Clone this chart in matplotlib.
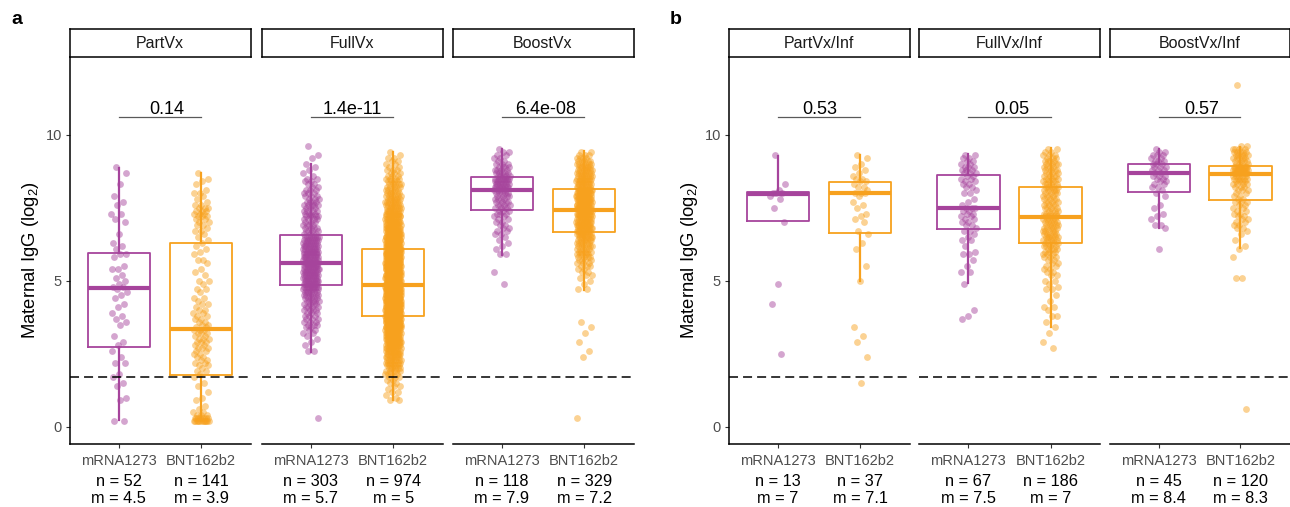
import numpy as np
import matplotlib
matplotlib.use("Agg")
import matplotlib.pyplot as plt
from matplotlib.transforms import blended_transform_factory, offset_copy

plt.rcParams["font.family"] = ["Liberation Sans", "DejaVu Sans"]
plt.rcParams["mathtext.default"] = "regular"

# ---------------- data ----------------
panel_tags = ["a", "b"]
facet_names = ["PartVx", "FullVx", "BoostVx", "PartVx/Inf", "FullVx/Inf", "BoostVx/Inf"]
vaccines = ["mRNA1273", "BNT162b2"]
p_values = ["0.14", "1.4e-11", "6.4e-08", "0.53", "0.05", "0.57"]
n_labels = [52, 141, 303, 974, 118, 329, 13, 37, 67, 186, 45, 120]
m_labels = ["4.5", "3.9", "5.7", "5", "7.9", "7.2", "7", "7.1", "7.5", "7", "8.4", "8.3"]
y_ticks = [0, 5, 10]
cutoff = 1.71
bracket_y = 10.6

# box statistics (log2 IgG), order: facet x vaccine
box_lo = [0.23, 0.22, 2.57, 0.91, 5.88, 4.68, 7.04, 5.00, 4.91, 3.42, 6.79, 6.11]
box_q1 = [2.72, 1.76, 4.85, 3.80, 7.41, 6.66, 7.04, 6.63, 6.78, 6.29, 8.05, 7.77]
box_med = [4.75, 3.36, 5.62, 4.86, 8.12, 7.43, 7.98, 8.01, 7.50, 7.19, 8.70, 8.66]
box_q3 = [5.94, 6.29, 6.56, 6.10, 8.56, 8.15, 8.05, 8.38, 8.63, 8.21, 9.01, 8.94]
box_hi = [8.85, 8.68, 9.00, 9.42, 9.50, 9.45, 9.28, 9.30, 9.33, 9.55, 9.50, 9.59]

# individual points: value levels (log2) and number of points at each level
partvx_mrna_y = [8.9, 8.7, 8.3, 7.9, 7.7, 7.6, 7.3, 7.1, 7.0, 6.6, 6.3, 6.2, 6.1, 5.9, 5.8, 5.5, 5.4, 5.2, 5.1, 5.0,
                 4.9, 4.8, 4.7, 4.6, 4.5, 4.4, 4.2, 4.1, 3.9, 3.8, 3.7, 3.6, 3.5, 3.1, 2.9, 2.8, 2.6, 2.4, 2.2, 1.8,
                 1.7, 1.5, 1.4, 1.0, 0.9, 0.2]
partvx_mrna_k = [1, 1, 1, 1, 1, 1, 2, 1, 1, 1, 1, 1, 1, 2, 1, 1, 2, 1, 1, 1,
                 1, 2, 1, 1, 1, 1, 1, 1, 1, 1, 1, 1, 1, 1, 1, 1, 1, 1, 2, 1,
                 1, 1, 1, 1, 1, 2]

partvx_bnt_y = [8.7, 8.5, 8.4, 8.3, 8.1, 8.0, 7.9, 7.8, 7.7, 7.6, 7.5, 7.4, 7.3, 7.2, 7.1, 7.0, 6.9, 6.8, 6.7, 6.6, 6.5, 6.4, 6.3,
                6.2, 6.1, 6.0, 5.9, 5.7, 5.6, 5.4, 5.3, 5.2, 5.0, 4.9, 4.7, 4.6, 4.4, 4.3, 4.2, 4.1, 4.0, 3.9, 3.8, 3.7, 3.6, 3.5, 3.4,
                3.3, 3.2, 3.1, 3.0, 2.9, 2.8, 2.7, 2.6, 2.5, 2.4, 2.3, 2.2, 2.1, 2.0, 1.9, 1.8,
                1.7, 1.5, 1.4, 1.2, 1.0, 0.9, 0.7, 0.6, 0.5, 0.4, 0.3, 0.2]
partvx_bnt_k = [1, 1, 1, 1, 1, 2, 1, 1, 1, 2, 3, 3, 3, 3, 2, 2, 2, 1, 2, 1, 1, 1, 1,
                1, 1, 1, 1, 2, 1, 1, 1, 1, 2, 1, 2, 1, 2, 1, 2, 1, 2, 2, 2, 2, 2, 2, 2,
                3, 3, 2, 3, 3, 2, 3, 2, 2, 2, 2, 2, 2, 1, 2, 1,
                1, 1, 1, 1, 1, 1, 1, 1, 2, 3, 8, 12]

fullvx_mrna_y = [9.6, 9.3, 9.2, 9.0, 8.9, 8.8, 8.7, 8.6, 8.5, 8.4, 8.3, 8.2, 8.1, 8.0, 7.9, 7.8, 7.7, 7.6, 7.5, 7.4,
                 7.3, 7.2, 7.1, 7.0, 6.9, 6.8, 6.7, 6.6,
                 6.5, 6.4, 6.3, 6.2, 6.1, 6.0, 5.9, 5.8, 5.7,
                 5.6, 5.5, 5.4, 5.3, 5.2, 5.1, 5.0, 4.9,
                 4.8, 4.7, 4.6, 4.5, 4.4, 4.3, 4.2, 4.1, 4.0, 3.9, 3.8, 3.7, 3.6, 3.5, 3.4, 3.3, 3.2, 3.1, 3.0, 2.9,
                 2.8, 2.6, 0.3]
fullvx_mrna_k = [1, 1, 1, 1, 1, 1, 1, 1, 2, 2, 2, 2, 3, 3, 3, 3, 4, 5, 3, 4,
                 4, 5, 4, 3, 4, 4, 4, 4,
                 8, 8, 8, 9, 8, 9, 8, 9, 8,
                 10, 10, 9, 10, 9, 9, 9, 9,
                 8, 7, 6, 6, 5, 5, 4, 4, 4, 3, 3, 3, 3, 3, 2, 2, 2, 1, 1, 1,
                 1, 2, 1]

fullvx_bnt_y = [9.4, 9.3, 9.2, 9.1, 9.0, 8.9, 8.8, 8.7, 8.6, 8.5, 8.4, 8.3, 8.2, 8.1, 8.0, 7.9, 7.8, 7.7, 7.6, 7.5,
                7.4, 7.3, 7.2, 7.1, 7.0, 6.9, 6.8, 6.7, 6.6, 6.5, 6.4, 6.3, 6.2,
                6.1, 6.0, 5.9, 5.8, 5.7, 5.6, 5.5, 5.4, 5.3, 5.2, 5.1, 5.0, 4.9,
                4.8, 4.7, 4.6, 4.5, 4.4, 4.3, 4.2, 4.1, 4.0, 3.9, 3.8,
                3.7, 3.6, 3.5, 3.4, 3.3, 3.2, 3.1, 3.0, 2.9, 2.8, 2.7, 2.6, 2.5, 2.4, 2.3, 2.2, 2.1, 2.0, 1.9, 1.8,
                1.7, 1.6, 1.5, 1.4, 1.3, 1.2, 1.1, 1.0, 0.9]
fullvx_bnt_k = [1, 1, 2, 2, 2, 2, 3, 3, 3, 4, 4, 5, 5, 5, 6, 6, 7, 7, 8, 8,
                9, 9, 10, 10, 11, 11, 12, 13, 14, 15, 16, 16, 17,
                18, 19, 17, 20, 18, 19, 21, 18, 19, 20, 17, 19, 18,
                21, 23, 22, 20, 24, 22, 21, 23, 22, 21, 24,
                21, 20, 19, 18, 14, 14, 13, 12, 12, 11, 10, 10, 9, 8, 8, 7, 6, 6, 5, 4,
                3, 2, 2, 2, 1, 2, 1, 1, 2]

boostvx_mrna_y = [9.5, 9.4, 9.3, 9.2, 9.1, 9.0, 8.9, 8.8, 8.7, 8.6,
                  8.5, 8.4, 8.3, 8.2,
                  8.1, 8.0, 7.9, 7.8, 7.7, 7.6, 7.5,
                  7.4, 7.3, 7.2, 7.1, 7.0, 6.9, 6.8, 6.7, 6.6, 6.5, 6.4, 6.3, 6.2, 6.1, 5.9, 5.3, 4.9]
boostvx_mrna_k = [1, 2, 2, 2, 2, 3, 4, 4, 5, 5,
                  7, 7, 7, 8,
                  5, 5, 4, 4, 4, 4, 4,
                  3, 3, 2, 2, 2, 2, 2, 2, 2, 1, 1, 1, 1, 1, 2, 1, 1]

boostvx_bnt_y = [9.4, 9.3, 9.2, 9.1, 9.0, 8.9, 8.8, 8.7, 8.6, 8.5, 8.4, 8.3, 8.2,
                 8.1, 8.0, 7.9, 7.8, 7.7, 7.6, 7.5,
                 7.4, 7.3, 7.2, 7.1, 7.0, 6.9, 6.8, 6.7,
                 6.6, 6.5, 6.4, 6.3, 6.2, 6.1, 6.0, 5.9, 5.8, 5.7, 5.6, 5.5, 5.4, 5.3, 5.2, 5.1, 5.0, 4.9, 4.7,
                 3.6, 3.4, 3.2, 2.9, 2.6, 2.4, 0.3]
boostvx_bnt_k = [2, 3, 4, 5, 6, 7, 7, 8, 8, 8, 8, 8, 8,
                 12, 12, 12, 12, 11, 12, 11,
                 11, 10, 10, 10, 10, 11, 10, 10,
                 9, 8, 7, 6, 6, 5, 5, 5, 4, 4, 3, 3, 2, 2, 2, 1, 1, 1, 2,
                 1, 1, 1, 1, 1, 1, 1]

partinf_mrna_y = [9.3, 8.3, 8.1, 8.0, 7.9, 7.8, 7.5, 7.0, 4.9, 4.2, 2.5]
partinf_mrna_k = [1, 1, 1, 3, 1, 1, 1, 1, 1, 1, 1]

partinf_bnt_y = [9.3, 9.2, 9.0, 8.9, 8.8, 8.7, 8.6, 8.5, 8.4, 8.3, 8.2, 8.1, 8.0, 7.9, 7.7, 7.6,
                 7.5, 7.3, 7.2, 7.1, 7.0, 6.7, 6.6, 6.3, 6.1, 5.5, 5.0, 3.4, 3.1, 2.9, 2.4, 1.5]
partinf_bnt_k = [1, 1, 1, 1, 1, 1, 1, 2, 2, 1, 2, 1, 3, 1, 1, 1,
                 1, 1, 1, 1, 1, 1, 1, 1, 1, 1, 1, 1, 1, 1, 1, 1]

fullinf_mrna_y = [9.3, 9.2, 9.1, 9.0, 8.9, 8.8, 8.7,
                  8.6, 8.5, 8.4, 8.3, 8.2, 8.1, 8.0, 7.8, 7.7, 7.6,
                  7.5, 7.4, 7.3, 7.2, 7.1, 7.0, 6.9, 6.8,
                  6.7, 6.6, 6.5, 6.4, 6.2, 6.0, 5.9, 5.7, 5.5, 5.3, 4.9, 4.0, 3.8, 3.7]
fullinf_mrna_k = [2, 2, 2, 2, 3, 3, 3,
                  2, 2, 2, 2, 2, 1, 2, 1, 1, 1,
                  3, 2, 2, 2, 2, 2, 2, 1,
                  2, 1, 1, 2, 1, 1, 2, 1, 1, 2, 1, 1, 1, 1]

fullinf_bnt_y = [9.5, 9.4, 9.3, 9.2, 9.1, 9.0, 8.9, 8.8, 8.7, 8.6, 8.5, 8.4, 8.3,
                 8.2, 8.1, 8.0, 7.9, 7.8, 7.7, 7.6, 7.5, 7.4, 7.3, 7.2,
                 7.1, 7.0, 6.9, 6.8, 6.7, 6.6, 6.5, 6.4, 6.3,
                 6.2, 6.1, 6.0, 5.9, 5.8, 5.7, 5.6, 5.5, 5.4, 5.3, 5.2, 5.0, 4.9, 4.8, 4.7, 4.5, 4.3, 4.1, 4.0,
                 3.8, 3.6, 3.4, 3.2, 2.9, 2.7]
fullinf_bnt_k = [2, 2, 3, 3, 4, 4, 4, 4, 4, 4, 4, 4, 4,
                 5, 5, 4, 4, 4, 4, 4, 4, 4, 4, 5,
                 5, 5, 5, 5, 5, 5, 6, 5, 5,
                 4, 4, 3, 3, 3, 2, 2, 2, 2, 2, 2, 2, 1, 1, 2, 1, 1, 2, 1,
                 2, 1, 1, 1, 1, 1]

boostinf_mrna_y = [9.5, 9.4, 9.3, 9.2, 9.1, 9.0, 8.9, 8.8, 8.7, 8.6, 8.5, 8.4, 8.3, 8.2, 8.1, 8.0, 7.9,
                   7.6, 7.5, 7.3, 7.2, 7.1, 6.9, 6.8, 6.1]
boostinf_mrna_k = [1, 2, 3, 2, 3, 3, 3, 3, 2, 3, 2, 2, 2, 2, 1, 1, 1,
                   1, 1, 1, 1, 1, 2, 1, 1]

boostinf_bnt_y = [11.7, 9.6, 9.5, 9.4, 9.3, 9.2, 9.1, 9.0, 8.9, 8.8, 8.7,
                  8.6, 8.5, 8.4, 8.3, 8.2, 8.1, 8.0, 7.9, 7.8,
                  7.7, 7.6, 7.5, 7.4, 7.3, 7.2, 7.1, 7.0, 6.9, 6.8,
                  6.7, 6.6, 6.4, 6.2, 6.1, 5.8, 5.1, 0.6]
boostinf_bnt_k = [1, 2, 4, 5, 5, 5, 4, 4, 10, 10, 10,
                  5, 5, 4, 4, 3, 3, 2, 2, 2,
                  3, 2, 2, 2, 2, 2, 2, 2, 2, 2,
                  1, 1, 1, 1, 1, 1, 2, 1]

point_y = [partvx_mrna_y, partvx_bnt_y, fullvx_mrna_y, fullvx_bnt_y, boostvx_mrna_y, boostvx_bnt_y,
           partinf_mrna_y, partinf_bnt_y, fullinf_mrna_y, fullinf_bnt_y, boostinf_mrna_y, boostinf_bnt_y]
point_k = [partvx_mrna_k, partvx_bnt_k, fullvx_mrna_k, fullvx_bnt_k, boostvx_mrna_k, boostvx_bnt_k,
           partinf_mrna_k, partinf_bnt_k, fullinf_mrna_k, fullinf_bnt_k, boostinf_mrna_k, boostinf_bnt_k]

# ---------------- layout / style ----------------
W, H = 1290, 507
fig = plt.figure(figsize=(W / 100, H / 100), dpi=100)
facet_px = [(69.5, 250.5), (261.5, 442.5), (452.5, 633.5),
            (728.5, 909.5), (919.0, 1100.0), (1109.5, 1289.5)]
top_px, bot_px, strip_top_px = 57.3, 444.0, 29.0
p_dx = [7, 0, 3, 1, 2, 2]
PURPLE = "#A6449C"
ORANGE = "#F7A11E"
colors = [PURPLE, ORANGE]
PHI = 0.6180339887

for f, (x0, x1) in enumerate(facet_px):
    ax = fig.add_axes([x0 / W, 1 - bot_px / H, (x1 - x0) / W, (bot_px - top_px) / H])
    ax.set_xlim(0.4, 2.6)
    ax.set_ylim(-0.59, 12.65)
    for j in range(2):
        g = 2 * f + j
        ys = np.repeat(np.array(point_y[g], dtype=float), point_k[g])
        idx = np.arange(len(ys))
        xs = (j + 1) + 0.095 * (2 * ((idx * PHI + 0.31) % 1.0) - 1)
        ax.scatter(xs, ys, s=24, color=colors[j], alpha=0.48, linewidths=0, zorder=2)
        stats = [dict(whislo=box_lo[g], q1=box_q1[g], med=box_med[g], q3=box_q3[g], whishi=box_hi[g])]
        ax.bxp(stats, positions=[j + 1], widths=0.76, showfliers=False, showcaps=False,
               manage_ticks=False,
               boxprops=dict(color=colors[j], lw=1.3, zorder=3),
               whiskerprops=dict(color=colors[j], lw=1.6, zorder=3),
               medianprops=dict(color=colors[j], lw=3.0, solid_capstyle="butt", zorder=3.5))
    ax.axhline(cutoff, color="black", lw=1.1, ls=(0, (5.9, 3.3)), zorder=4)
    ax.plot([1, 2], [bracket_y, bracket_y], color="#595959", lw=0.9, zorder=3)
    ax.text(1.5, bracket_y, p_values[f], ha="center", va="baseline", fontsize=13, color="black",
            transform=offset_copy(ax.transData, fig=fig, x=p_dx[f], y=3, units="dots"))

    for s in ["top", "right"]:
        ax.spines[s].set_visible(False)
    ax.spines["bottom"].set_linewidth(1.1)
    ax.spines["left"].set_linewidth(1.1)
    ax.set_xticks([1, 2])
    ax.set_xticklabels(vaccines)
    ax.tick_params(axis="x", length=3, width=0.8, color="#333333", pad=4,
                   labelsize=10.5, labelcolor="#4D4D4D")
    if f % 3 == 0:
        ax.set_yticks(y_ticks)
        ax.set_yticklabels([str(t) for t in y_ticks])
        ax.tick_params(axis="y", length=3, width=0.8, color="#333333", pad=2.4,
                       labelsize=10.5, labelcolor="#4D4D4D")
    else:
        ax.spines["left"].set_visible(False)
        ax.set_yticks([])

    tr = blended_transform_factory(ax.transData, ax.transAxes)
    for j in range(2):
        g = 2 * f + j
        ax.text(j + 1, -0.0957, f"n = {n_labels[g]}", transform=tr, ha="center", va="center",
                fontsize=11.8, color="black", clip_on=False)
        ax.text(j + 1, -0.141, f"m = {m_labels[g]}", transform=tr, ha="center", va="center",
                fontsize=11.8, color="black", clip_on=False)

    sax = fig.add_axes([x0 / W, 1 - top_px / H, (x1 - x0) / W, (top_px - strip_top_px) / H])
    sax.set_xticks([])
    sax.set_yticks([])
    for s in sax.spines.values():
        s.set_linewidth(1.1)
        s.set_color("black")
    sax.text(0.5, 0.5, facet_names[f], ha="center", va="center", fontsize=11.5,
             color="#1A1A1A", transform=sax.transAxes)

for i, tag in enumerate(panel_tags):
    dx = 659 * i
    fig.text((17 + dx) / W, 1 - 19 / H, tag, fontweight="bold", fontsize=14,
             ha="center", va="center")
    fig.text((31 + dx) / W, 1 - 260 / H, "Maternal IgG (log$_2$)", rotation=90,
             ha="center", va="center", fontsize=13.3)

fig.savefig("out.png", dpi=100)
